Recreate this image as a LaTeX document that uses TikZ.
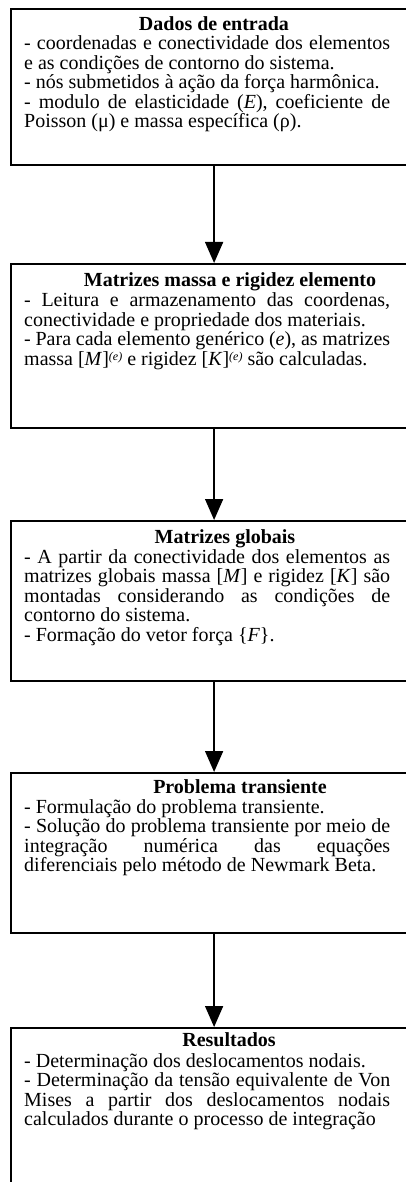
\documentclass[tikz,border=0pt]{standalone}
\usepackage{fontspec}
\setmainfont{Liberation Serif}
\usetikzlibrary{arrows.meta}
\newlength\tw
\setlength\tw{366pt}
\newcommand\jline[1]{\hbox to\tw{#1}}
\newcommand\lline[1]{\hbox{#1}}
\newcommand\linestack[1]{\vtop{\baselineskip=19.5pt\lineskiplimit=-30pt\lineskip=0pt #1}}
\newcommand\sups{\raisebox{5pt}{\fontsize{12pt}{12pt}\selectfont\textit{(e)}}}
\begin{document}
\begin{tikzpicture}[x=1pt,y=-1pt,
  frame/.style={draw, line width=2.2pt, inner sep=0pt, anchor=north west, minimum width=406pt},
  boxtitle/.style={inner sep=0pt, anchor=base, font=\fontsize{20pt}{19.5pt}\selectfont\bfseries},
  boxtext/.style={inner sep=0pt, anchor=base west, font=\fontsize{20pt}{19.5pt}\selectfont},
  arr/.style={line width=1.5pt, -{Triangle[width=18pt,length=21pt]}}]
\useasboundingbox (0,0) rectangle (406,1182);
% boxes
\node[frame, minimum height=156pt] (b1) at (10,8) {};
\node[frame, minimum height=164pt] (b2) at (10,263) {};
\node[frame, minimum height=160pt] (b3) at (10,520) {};
\node[frame, minimum height=160pt] (b4) at (10,772) {};
\node[frame, minimum height=180pt] (b5) at (10,1027) {};
% titles
\node[boxtitle] (h1) at (214,30.7) {Dados de entrada};
\node[boxtitle] (h2) at (230,286.7) {Matrizes massa e rigidez elemento};
\node[boxtitle] (h3) at (225,543.3) {Matrizes globais};
\node[boxtitle] (h4) at (240,793) {Problema transiente};
\node[boxtitle] (h5) at (229,1046.7) {Resultados};
% texts
\node[boxtext] (t1) at (24,50) {\linestack{%
  \jline{- coordenadas e conectividade dos elementos}
  \lline{e as condições de contorno do sistema.}
  \lline{- nós submetidos à ação da força harmônica.}
  \jline{- modulo de elasticidade (\textit{E}), coeficiente de}
  \lline{Poisson (μ) e massa específica (ρ).}}};
\node[boxtext] (t2) at (24,306.7) {\linestack{%
  \jline{- Leitura e armazenamento das coordenas,}
  \lline{conectividade e propriedade dos materiais.}
  \jline{- Para cada elemento genérico (\textit{e}), as matrizes}
  \lline{massa [\textit{M}]\sups{} e rigidez [\textit{K}]\sups{} são calculadas.}}};
\node[boxtext] (t3) at (24,563) {\linestack{%
  \jline{- A partir da conectividade dos elementos as}
  \jline{matrizes globais massa [\textit{M}] e rigidez [\textit{K}] são}
  \jline{montadas considerando as condições de}
  \lline{contorno do sistema.}
  \lline{- Formação do vetor força \{\textit{F}\}.}}};
\node[boxtext] (t4) at (24,813) {\linestack{%
  \lline{- Formulação do problema transiente.}
  \jline{- Solução do problema transiente por meio de}
  \jline{integração numérica das equações}
  \lline{diferenciais pelo método de Newmark Beta.}}};
\node[boxtext] (t5) at (24,1067) {\linestack{%
  \lline{- Determinação dos deslocamentos nodais.}
  \jline{- Determinação da tensão equivalente de Von}
  \jline{Mises a partir dos deslocamentos nodais}
  \lline{calculados durante o processo de integração}}};
% arrows
\draw[arr] (b1.south) -- (b2.north);
\draw[arr] (b2.south) -- (b3.north);
\draw[arr] (b3.south) -- (b4.north);
\draw[arr] (b4.south) -- (b5.north);
\end{tikzpicture}
\end{document}
